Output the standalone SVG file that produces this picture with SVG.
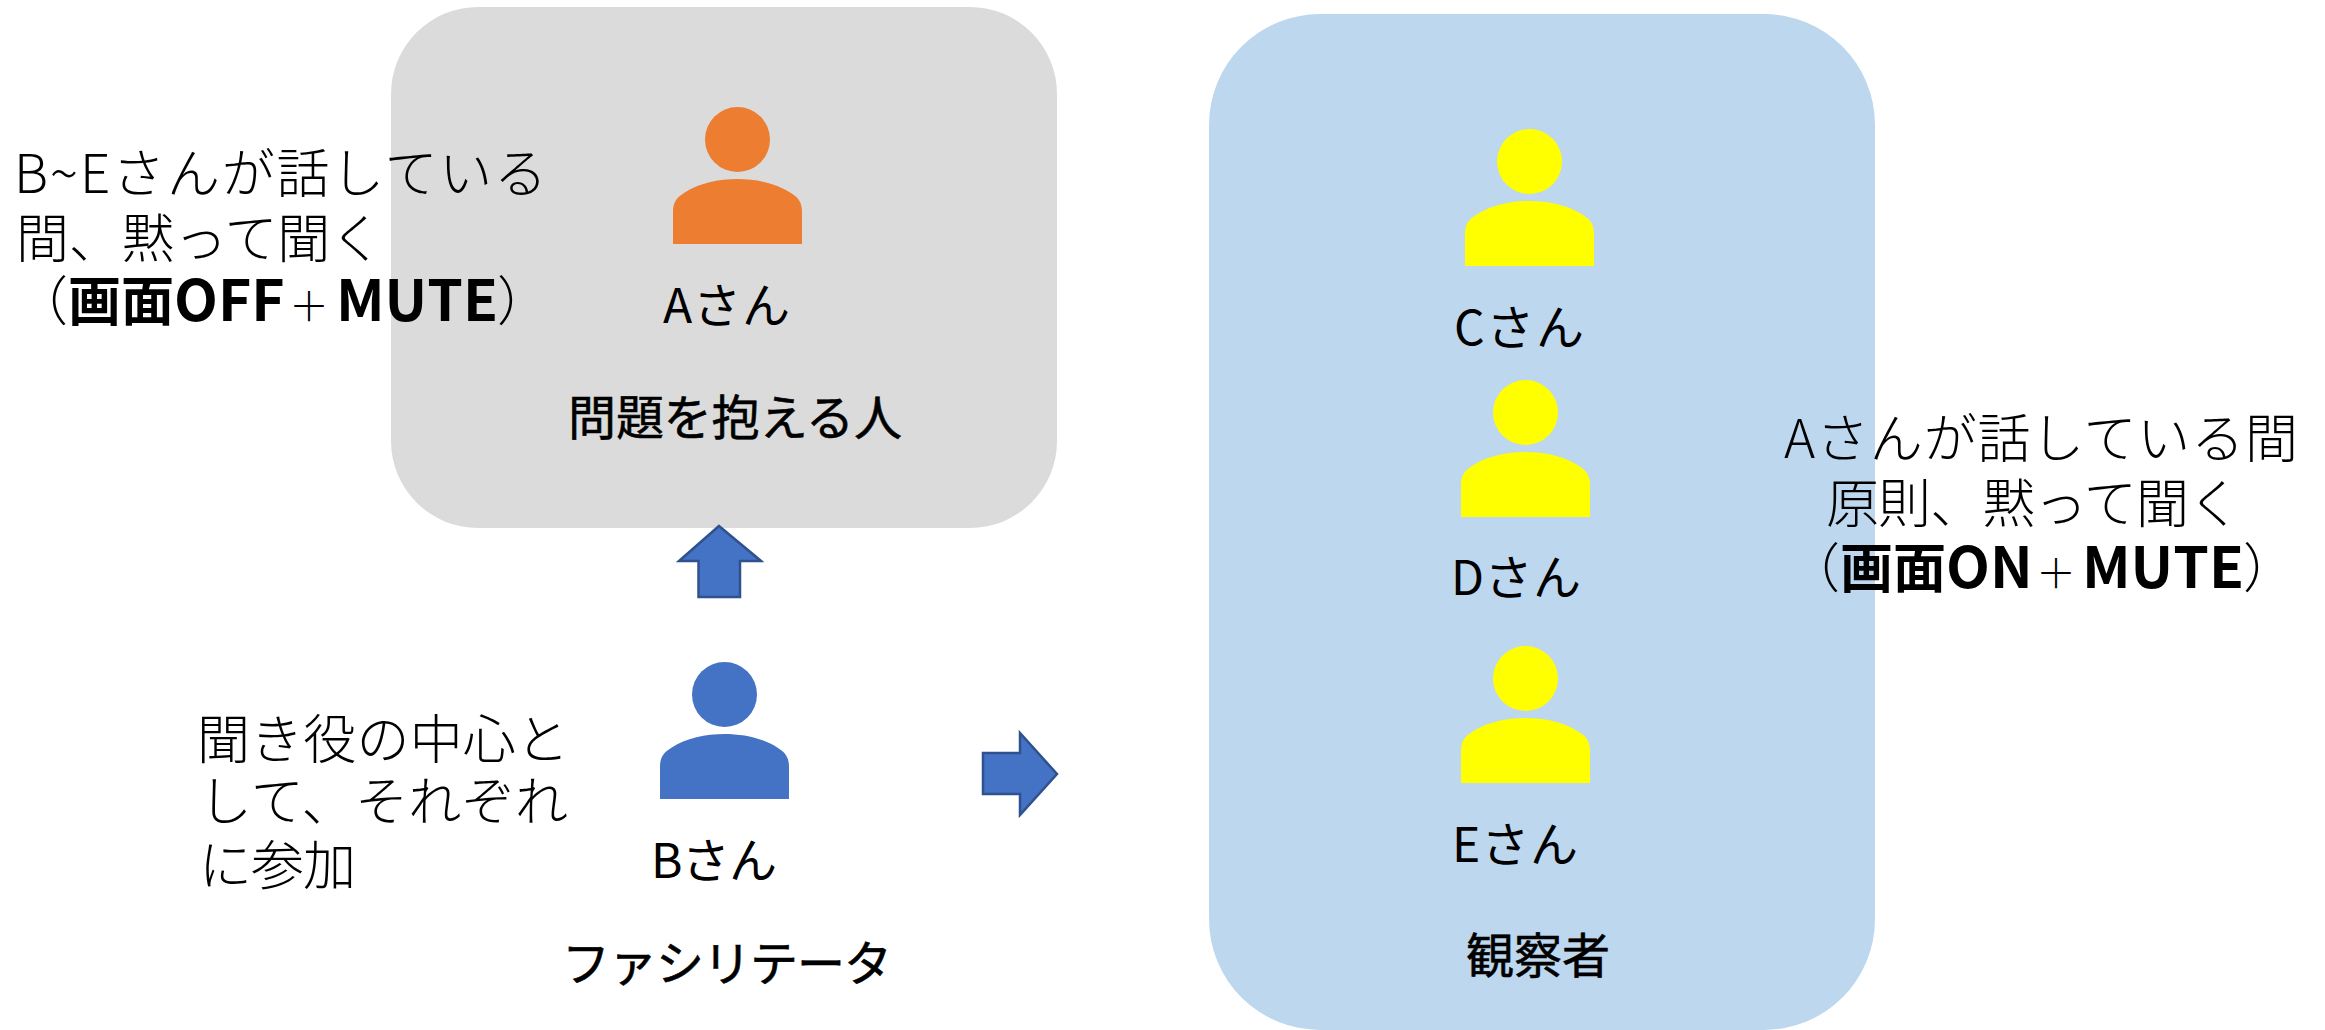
<svg xmlns="http://www.w3.org/2000/svg" xmlns:xlink="http://www.w3.org/1999/xlink" width="2325" height="1030" viewBox="0 0 2325 1030">
<style>
text{font-family:"Noto Sans CJK JP","Noto Sans",sans-serif;fill:#000;}
.n{font-size:53px;font-weight:300;}
.b{font-weight:700;}
.m{font-weight:700;font-size:57px;}
.p{font-size:40px;}
.l{font-size:48px;font-weight:400;}
.g{font-size:48px;font-weight:400;stroke:#000;stroke-width:.6px;}
.arrow{fill:#4472c4;stroke:#2f528f;stroke-width:2.500;}
</style>
<defs>
<g id="person">
<circle cx="64.5" cy="-39.5" r="32.500"/>
<path d="M0,65V33C0,24 3,19 11,14C26,4 46,0 64.500,0C83,0 103,4 118,14C126,19 129,24 129,33V65Z"/>
</g>
</defs>
<rect width="2325" height="1030" fill="#fff"/>
<g id="group-a"><rect x="391" y="7" width="666" height="521" rx="87" fill="#dbdbdb"/></g>
<g id="group-observers"><rect x="1209" y="14" width="666" height="1016" rx="111" fill="#bdd7ee"/></g>
<g id="connectors">
<path class="arrow" d="M719,526L761,561H740V597H698.500V561H679Z"/>
<path class="arrow" d="M983,753H1020V733L1057,774L1020,815V794H983Z"/>
</g>
<g id="person-a" fill="#ed7d31"><use xlink:href="#person" href="#person" x="673" y="179"/><text class="l" x="663" y="323" textLength="127">Aさん</text></g>
<g id="person-b" fill="#4472c4"><use xlink:href="#person" href="#person" x="660" y="734"/><text class="l" x="651" y="878" textLength="126">Bさん</text></g>
<g id="person-c" fill="#ffff00"><use xlink:href="#person" href="#person" x="1465" y="201"/><text class="l" x="1454" y="345" textLength="130">Cさん</text></g>
<g id="person-d" fill="#ffff00"><use xlink:href="#person" href="#person" x="1461" y="452"/><text class="l" x="1451" y="595" textLength="130">Dさん</text></g>
<g id="person-e" fill="#ffff00"><use xlink:href="#person" href="#person" x="1461" y="718"/><text class="l" x="1452" y="862" textLength="126">Eさん</text></g>
<g id="labels">
<text class="g" x="568" y="435" textLength="334">問題を抱える人</text>
<text class="g" x="562" y="981" textLength="330">ファシリテータ</text>
<text class="g" x="1466" y="973" textLength="144">観察者</text>
<text class="n" x="14" y="193" textLength="533">B~Eさんが話している</text>
<text class="n" x="16" y="258" textLength="367">間、黙って聞く</text>
<text class="n" x="15" y="321">（<tspan class="b" x="68">画面</tspan><tspan class="m" x="174">OFF</tspan><tspan class="p" x="289">＋</tspan><tspan class="m" x="336">MUTE</tspan><tspan x="497">）</tspan></text>
<text class="n" x="197" y="759" textLength="372">聞き役の中心と</text>
<text class="n" x="199" y="821" textLength="369">して、それぞれ</text>
<text class="n" x="199" y="885" textLength="157">に参加</text>
<text class="n" x="1784" y="458" textLength="514">Aさんが話している間</text>
<text class="n" x="1826" y="523" textLength="415">原則、黙って聞く</text>
<text class="n" x="1787" y="588">（<tspan class="b" x="1840">画面</tspan><tspan class="m" x="1946">ON</tspan><tspan class="p" x="2036">＋</tspan><tspan class="m" x="2082">MUTE</tspan><tspan x="2243">）</tspan></text>
</g>
</svg>
